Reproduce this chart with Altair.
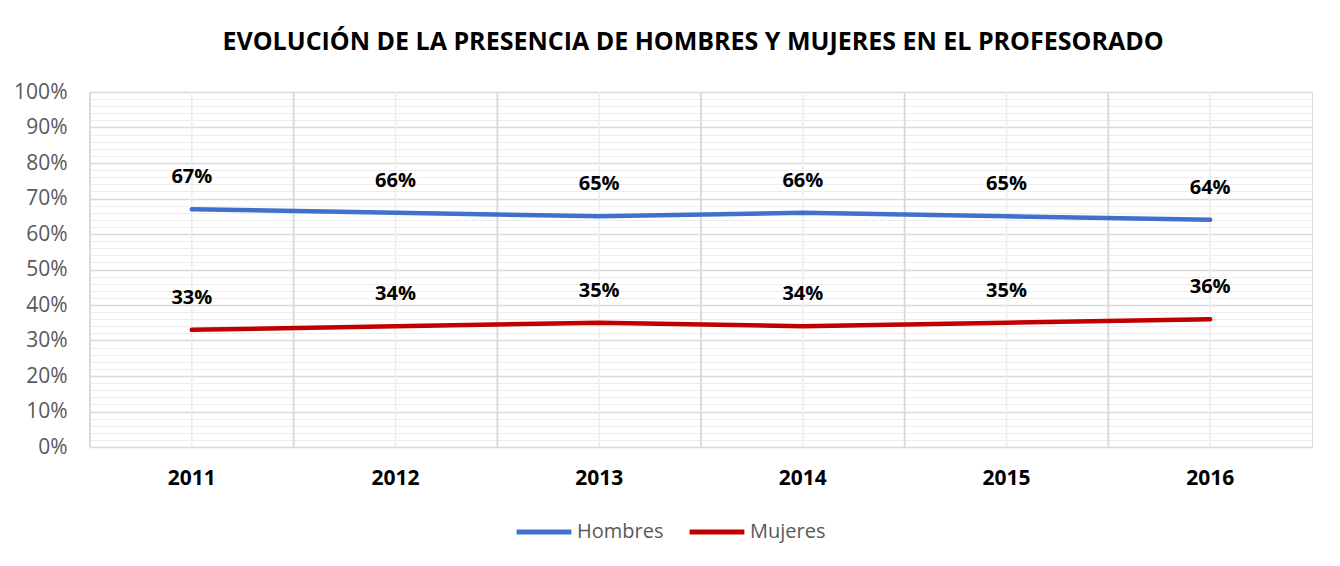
import altair as alt
import pandas as pd

years = ["2011", "2012", "2013", "2014", "2015", "2016"]
hombres = [0.67, 0.66, 0.65, 0.66, 0.65, 0.64]
mujeres = [0.33, 0.34, 0.35, 0.34, 0.35, 0.36]
series_names = ["Hombres", "Mujeres"]
series_colors = ["#4070CC", "#C00000"]
y_ticks = [i / 100 for i in range(0, 101, 2)]

rows = []
for y, h, m in zip(years, hombres, mujeres):
    rows.append({"year": y, "serie": "Hombres", "value": h})
    rows.append({"year": y, "serie": "Mujeres", "value": m})
df = pd.DataFrame(rows)
df_years = pd.DataFrame({"year": years})

W, H = 1222, 355
FONT = "Open Sans"

xscale = alt.Scale(type="band", domain=years, paddingInner=0, paddingOuter=0)
yscale = alt.Scale(domain=[0, 1], nice=False)

x_axis = alt.Axis(
    grid=False, ticks=False, domain=False, labelAngle=0,
    labelFont=FONT, labelFontSize=21, labelFontWeight="bold",
    labelColor="#000000", labelPadding=20,
)
major = "round(datum.value*100) % 10 === 0"
y_axis = alt.Axis(
    values=y_ticks,
    format=".0%",
    labelExpr=f"{major} ? datum.label : ''",
    labelOverlap=False,
    labelFont=FONT, labelFontSize=21, labelColor="#595959",
    labelPadding=23,
    ticks=False, domain=False,
    grid=True,
    gridColor={"condition": {"test": major, "value": "#D9D9D9"}, "value": "#EDEDED"},
    gridWidth={"condition": {"test": major, "value": 1.6}, "value": 1.2},
)

def xe(**kw):
    return alt.X("year:O", scale=xscale, title=None, axis=x_axis, **kw)

def ye():
    return alt.Y("value:Q", scale=yscale, title=None, axis=y_axis)

base = alt.Chart(df)

vcenter = alt.Chart(df_years).mark_rule(color="#EEEEEE", strokeWidth=1.6).encode(
    x=xe(),
    y=alt.value(0), y2=alt.value(H),
)
vbound = alt.Chart(df_years).mark_rule(color="#D9D9D9", strokeWidth=1.8).encode(
    x=xe(bandPosition=0),
    y=alt.value(0), y2=alt.value(H),
)

lines = base.mark_line(strokeWidth=4.5, strokeCap="round", strokeJoin="round").encode(
    x=xe(),
    y=ye(),
    color=alt.Color(
        "serie:N",
        scale=alt.Scale(domain=series_names, range=series_colors),
        legend=alt.Legend(
            title=None, orient="none", legendX=424, legendY=410, direction="horizontal",
            symbolType="stroke", symbolSize=3000, symbolStrokeWidth=5,
            labelFont=FONT, labelFontSize=20, labelColor="#595959",
            labelOffset=3, columnPadding=15,
        ),
    ),
)

labels = base.mark_text(
    dy=-32, font=FONT, fontSize=20, fontWeight="bold", color="#000000", baseline="middle"
).encode(
    x=xe(),
    y=ye(),
    text=alt.Text("value:Q", format=".0%"),
)

chart = (
    alt.layer(vcenter, vbound, lines, labels)
    .properties(
        width=W,
        height=H,
        autosize=alt.AutoSizeParams(type="none"),
        padding={"left": 82, "top": 84, "right": 20, "bottom": 111},
        title=alt.TitleParams(
            "EVOLUCIÓN DE LA PRESENCIA DE HOMBRES Y MUJERES EN EL PROFESORADO",
            font=FONT, fontSize=25, fontWeight="bold", color="#000000",
            anchor="middle", frame="group", dx=-8, offset=26,
        ),
    )
    .configure_view(stroke="#D9D9D9", strokeWidth=1.6)
    .configure(background="white")
)

chart.save("out.html", embed_options={"renderer": "svg", "actions": False})
